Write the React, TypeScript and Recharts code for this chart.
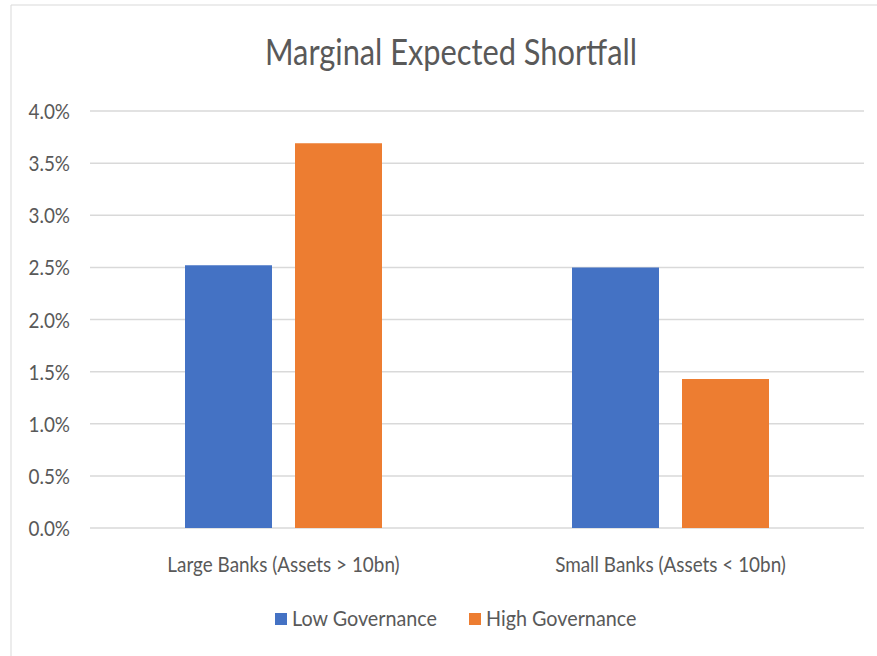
import React from 'react';
import { BarChart, Bar, XAxis, YAxis, CartesianGrid } from 'recharts';

const categories = ['Large Banks (Assets > 10bn)', 'Small Banks (Assets < 10bn)'];
const lowGovernance = [0.0252, 0.025];
const highGovernance = [0.0369, 0.0143];
const yTicks = [0, 0.005, 0.01, 0.015, 0.02, 0.025, 0.03, 0.035, 0.04];
const seriesNames = ['Low Governance', 'High Governance'];
const seriesColors = ['#4472C4', '#ED7D31'];
const chartTitle = 'Marginal Expected Shortfall';

const data = categories.map((c, i) => ({ name: c, low: lowGovernance[i], high: highGovernance[i] }));

const FONT = 'Lato, "Open Sans", sans-serif';
const TEXT = '#595959';
const SX = 0.9;
const SXL = 0.92;

const YTick = (props: any) => {
  const { x, y, payload } = props;
  return (
    <text
      transform={`translate(${x},${y + 8}) scale(${SX},1)`}
      textAnchor="end"
      fill={TEXT}
      fontSize={21}
      fontFamily={FONT}
    >
      {(payload.value * 100).toFixed(1) + '%'}
    </text>
  );
};

const XTick = (props: any) => {
  const { x, y, payload } = props;
  return (
    <text
      transform={`translate(${x},${y + 44}) scale(${SX},1)`}
      textAnchor="middle"
      fill={TEXT}
      fontSize={21}
      fontFamily={FONT}
    >
      {payload.value}
    </text>
  );
};

export default function App() {
  return (
    <div style={{ position: 'absolute', left: 0, top: 0, width: 877, height: 656, background: '#fff' }}>
      <BarChart
        width={877}
        height={656}
        data={data}
        margin={{ top: 111, right: 13, left: 20, bottom: 88 }}
        barSize={87}
        barGap={23}
      >
        <CartesianGrid horizontal={true} vertical={false} stroke="#d9d9d9" strokeWidth={1.5} />
        <XAxis
          dataKey="name"
          axisLine={false}
          tickLine={false}
          tickSize={0}
          tickMargin={0}
          height={40}
          tick={<XTick />}
          interval={0}
        />
        <YAxis
          domain={[0, 0.04]}
          ticks={yTicks}
          axisLine={false}
          tickLine={false}
          tickSize={0}
          tickMargin={20}
          width={70}
          tick={<YTick />}
          interval={0}
        />
        <Bar dataKey="low" name={seriesNames[0]} fill={seriesColors[0]} isAnimationActive={false} />
        <Bar dataKey="high" name={seriesNames[1]} fill={seriesColors[1]} isAnimationActive={false} />
      </BarChart>
      <svg
        width={877}
        height={656}
        style={{ position: 'absolute', left: 0, top: 0, pointerEvents: 'none' }}
      >
        <line x1={11} y1={5} x2={877} y2={5} stroke="#d9d9d9" strokeWidth={1} />
        <line x1={11} y1={5} x2={11} y2={656} stroke="#d9d9d9" strokeWidth={1} />
        <text
          x={451}
          y={65}
          textAnchor="middle"
          fill={TEXT}
          fontSize={37}
          fontFamily={FONT}
          textLength={372}
          lengthAdjust="spacingAndGlyphs"
        >
          {chartTitle}
        </text>
        <rect x={275} y={613} width={12} height={12} fill={seriesColors[0]} />
        <text transform={`translate(292,626) scale(${SXL},1)`} fill={TEXT} fontSize={21.5} fontFamily={FONT}>
          {seriesNames[0]}
        </text>
        <rect x={469} y={613} width={12} height={12} fill={seriesColors[1]} />
        <text transform={`translate(486,626) scale(${SXL},1)`} fill={TEXT} fontSize={21.5} fontFamily={FONT}>
          {seriesNames[1]}
        </text>
      </svg>
    </div>
  );
}
